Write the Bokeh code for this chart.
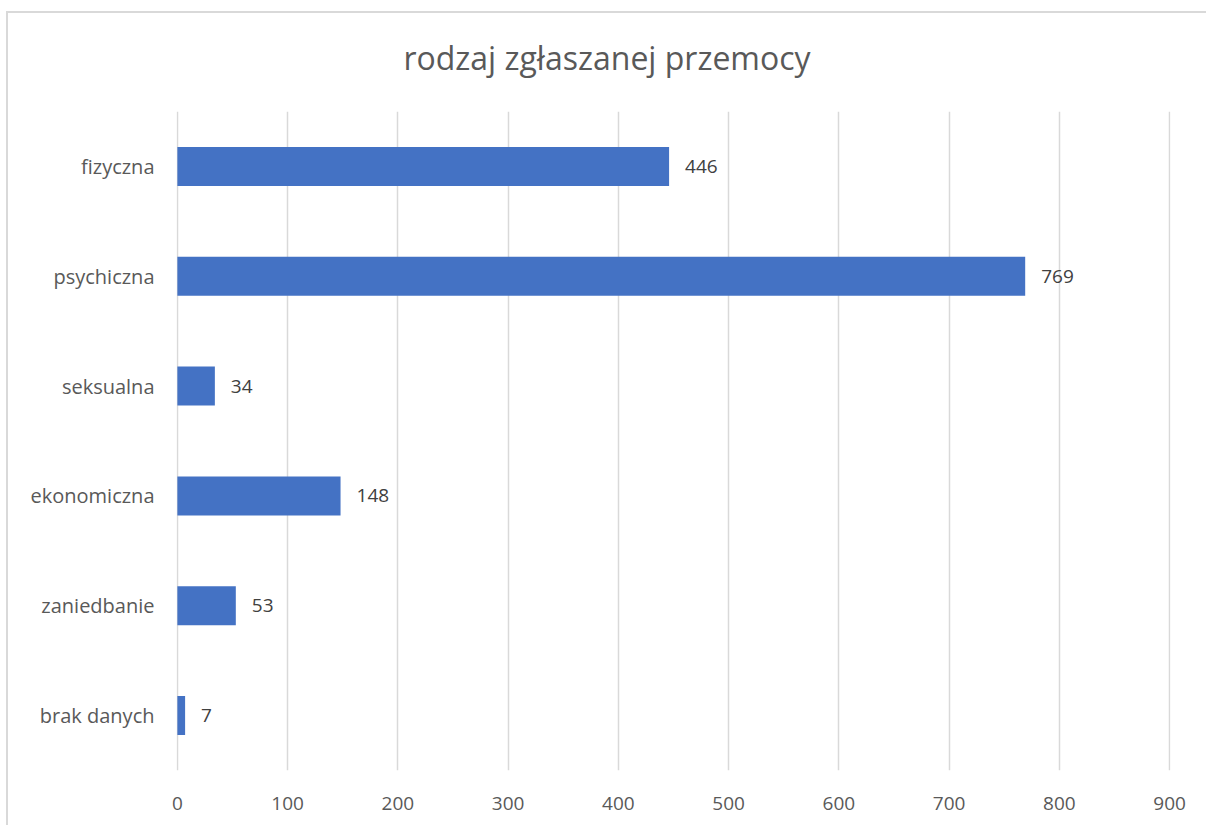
from bokeh.plotting import figure
from bokeh.models import ColumnDataSource, FactorRange, LabelSet, Range1d, FixedTicker, Div
from bokeh.layouts import column
from bokeh.core.properties import value
from bokeh.embed import file_html
from bokeh.resources import INLINE

title_text = "rodzaj zgłaszanej przemocy"
categories = ["fizyczna", "psychiczna", "seksualna", "ekonomiczna", "zaniedbanie", "brak danych"]
values = [446, 769, 34, 148, 53, 7]
x_ticks = [0, 100, 200, 300, 400, 500, 600, 700, 800, 900]

FONT = "Open Sans"

src = ColumnDataSource(dict(cat=categories, val=values, lbl=[str(v) for v in values]))

title_div = Div(
    text=('<div style="padding-top:23px; padding-left:15px; text-align:center; '
          'font-family:\'Open Sans\'; font-size:32px; color:#595959; width:1183px; '
          'line-height:44px; white-space:nowrap;">' + title_text + '</div>'),
    width=1198, height=88, margin=(0, 0, 0, 0),
    styles={"background-color": "white"},
)

p = figure(
    width=1198, height=724,
    y_range=FactorRange(factors=list(reversed(categories))),
    x_range=Range1d(-0.8, 900.8),
    output_backend="svg", toolbar_location=None,
    min_border_left=168, min_border_right=36, min_border_top=10, min_border_bottom=55,
)

p.hbar(y="cat", right="val", left=0, height=0.355, source=src, color="#4472C4", line_color=None)

labels = LabelSet(x="val", y="cat", text="lbl", source=src, x_offset=16, y_offset=0,
                  text_baseline="middle", text_align="left", text_font=value(FONT),
                  text_font_size=value("19px"), text_color=value("#404040"))
p.add_layout(labels)

p.xaxis.ticker = FixedTicker(ticks=x_ticks)
p.xgrid.ticker = FixedTicker(ticks=x_ticks)
p.xgrid.grid_line_color = "#d9d9d9"
p.xgrid.grid_line_width = 1.5
p.ygrid.grid_line_color = None

for ax in (p.xaxis, p.yaxis):
    ax.axis_line_color = None
    ax.major_tick_line_color = None
    ax.minor_tick_line_color = None
    ax.major_label_text_font = FONT
    ax.major_label_text_color = "#595959"

p.xaxis.major_label_text_font_size = "19px"
p.yaxis.major_label_text_font_size = "20px"
p.xaxis.major_label_standoff = 20
p.yaxis.major_label_standoff = 16

p.outline_line_color = None
p.background_fill_color = "white"
p.border_fill_color = "white"

layout = column(title_div, p, spacing=0)
layout.styles = {"border-left": "2px solid #d9d9d9", "border-top": "2px solid #d9d9d9",
                 "margin-left": "6px", "margin-top": "11px", "background-color": "white"}

open("out.html", "w").write(file_html(layout, INLINE))
